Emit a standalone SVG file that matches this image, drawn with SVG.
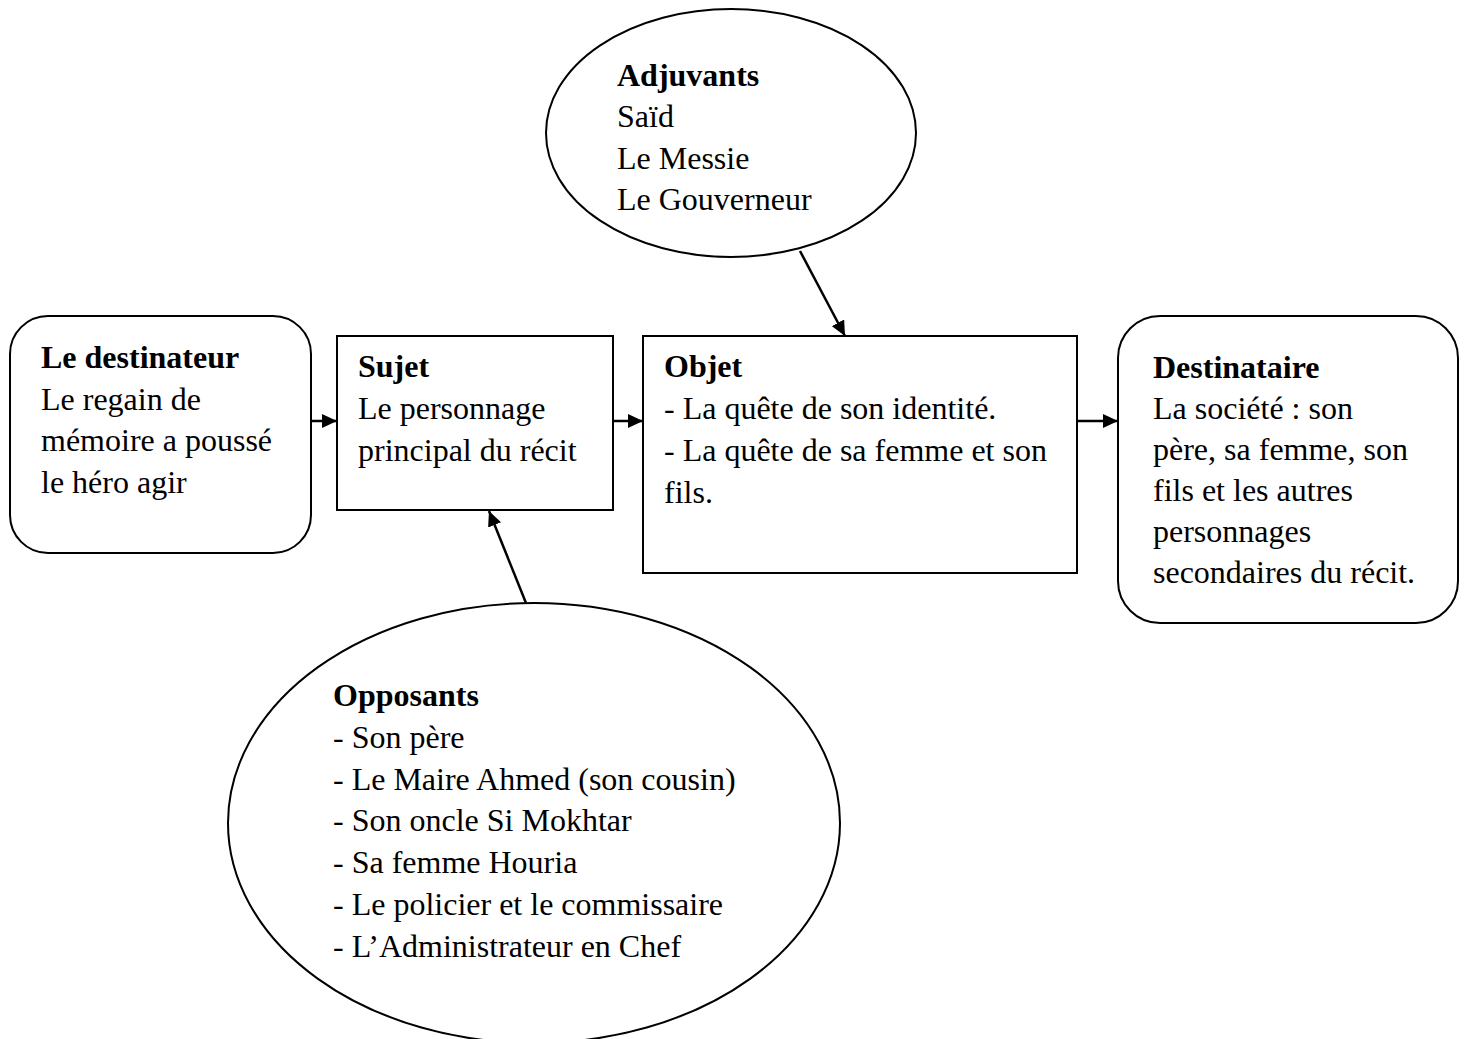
<svg xmlns="http://www.w3.org/2000/svg" width="1464" height="1039" viewBox="0 0 1464 1039">
<style>
  .shape { fill: #ffffff; stroke: #000000; stroke-width: 2; }
  .t { font-family: "Liberation Serif", "Times New Roman", serif; font-size: 32px; fill: #000000; }
  .b { font-weight: bold; }
  .conn { stroke: #000000; stroke-width: 2.5; fill: none; marker-end: url(#arrow); }
</style>
<defs>
  <marker id="arrow" markerUnits="userSpaceOnUse" markerWidth="16" markerHeight="14" refX="15" refY="7" orient="auto">
    <path d="M0,0 L15,7 L0,14 z" fill="#000000"/>
  </marker>
</defs>
<rect width="1464" height="1039" fill="#ffffff"/>

<g id="destinateur">
  <rect class="shape" x="10" y="316" width="301" height="237" rx="38" ry="38"/>
  <text class="t b" x="41" y="368">Le destinateur</text>
  <text class="t" x="41" y="410">Le regain de</text>
  <text class="t" x="41" y="451">mémoire a poussé</text>
  <text class="t" x="41" y="493">le héro agir</text>
</g>

<g id="sujet">
  <rect class="shape" x="337" y="336" width="276" height="174"/>
  <text class="t b" x="358" y="377">Sujet</text>
  <text class="t" x="358" y="419">Le personnage</text>
  <text class="t" x="358" y="461">principal du récit</text>
</g>

<g id="objet">
  <rect class="shape" x="643" y="336" width="434" height="237"/>
  <text class="t b" x="664" y="377">Objet</text>
  <text class="t" x="664" y="419">- La quête de son identité.</text>
  <text class="t" x="664" y="461">- La quête de sa femme et son</text>
  <text class="t" x="664" y="503">fils.</text>
</g>

<g id="destinataire">
  <rect class="shape" x="1118" y="316" width="340" height="307" rx="42" ry="42"/>
  <text class="t b" x="1153" y="378">Destinataire</text>
  <text class="t" x="1153" y="419">La société : son</text>
  <text class="t" x="1153" y="460">père, sa femme, son</text>
  <text class="t" x="1153" y="501">fils et les autres</text>
  <text class="t" x="1153" y="542">personnages</text>
  <text class="t" x="1153" y="583">secondaires du récit.</text>
</g>

<g id="adjuvants">
  <ellipse class="shape" cx="731" cy="133" rx="185" ry="124"/>
  <text class="t b" x="617" y="86">Adjuvants</text>
  <text class="t" x="617" y="127">Saïd</text>
  <text class="t" x="617" y="169">Le Messie</text>
  <text class="t" x="617" y="210">Le Gouverneur</text>
</g>

<g id="opposants">
  <ellipse class="shape" cx="534" cy="823" rx="306" ry="220"/>
  <text class="t b" x="333" y="706">Opposants</text>
  <text class="t" x="333" y="748">- Son père</text>
  <text class="t" x="333" y="790">- Le Maire Ahmed (son cousin)</text>
  <text class="t" x="333" y="831">- Son oncle Si Mokhtar</text>
  <text class="t" x="333" y="873">- Sa femme Houria</text>
  <text class="t" x="333" y="915">- Le policier et le commissaire</text>
  <text class="t" x="333" y="957">- L’Administrateur en Chef</text>
</g>

<g id="connectors">
  <line class="conn" x1="311" y1="421" x2="337" y2="421"/>
  <line class="conn" x1="613" y1="421" x2="643" y2="421"/>
  <line class="conn" x1="1077" y1="421" x2="1118" y2="421"/>
  <line class="conn" x1="800" y1="251" x2="845" y2="336"/>
  <line class="conn" x1="526" y1="603" x2="489" y2="511"/>
</g>
</svg>
